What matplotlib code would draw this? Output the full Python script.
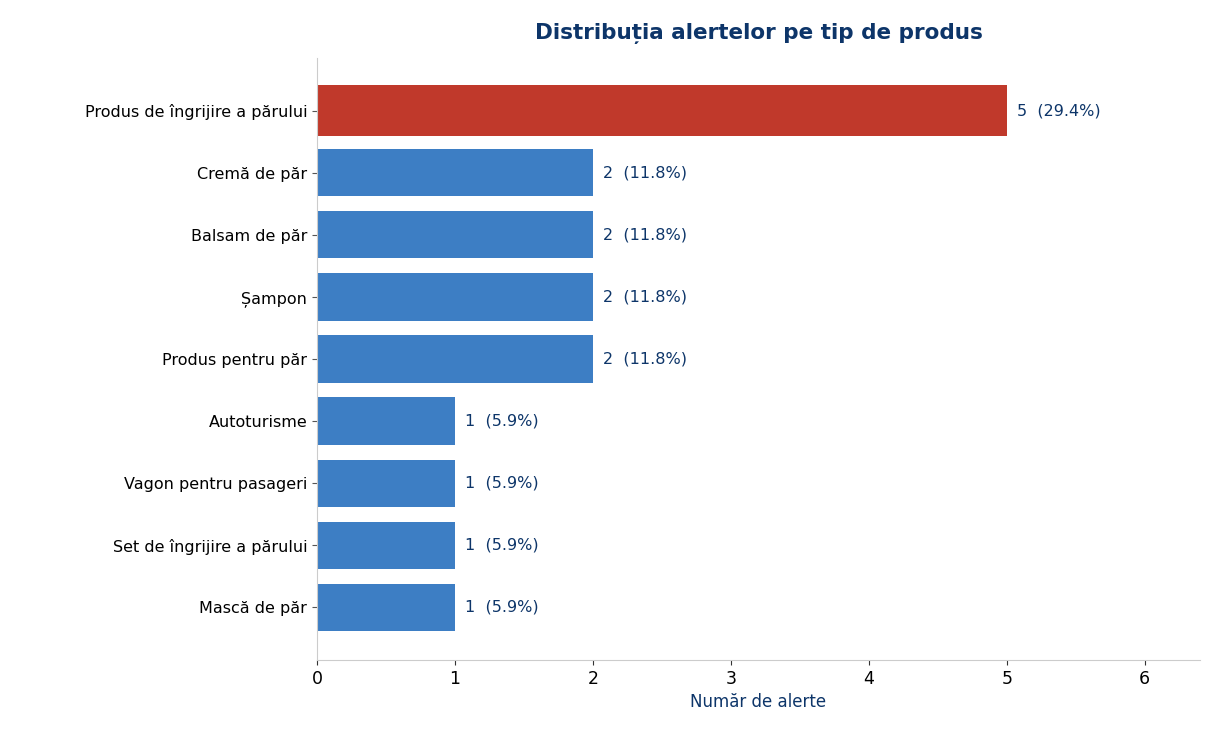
import matplotlib.pyplot as plt

categories = ["Produs de îngrijire a părului", "Cremă de păr", "Balsam de păr", "Șampon",
              "Produs pentru păr", "Autoturisme", "Vagon pentru pasageri",
              "Set de îngrijire a părului", "Mască de păr"]
counts = [5, 2, 2, 2, 2, 1, 1, 1, 1]
total = sum(counts)

navy = "#0d3569"
colors = ["#c0392b"] + ["#3d7ec4"] * (len(counts) - 1)
heights = [0.82] + [0.76] * (len(counts) - 1)

fig = plt.figure(figsize=(12.15, 7.41), dpi=100)
ax = fig.add_axes([317 / 1215, 1 - 660 / 741, 883 / 1215, 602 / 741])

y = list(range(len(categories)))
ax.barh(y, counts, height=heights, color=colors)
for yi, c in zip(y, counts):
    ax.text(c + 0.07, yi, f"{c}  ({c / total * 100:.1f}%)", va="center",
            ha="left", fontsize=11.5, color=navy)

ax.set_yticks(y)
ax.set_yticklabels(categories, fontsize=11.5)
ax.set_ylim(len(categories) - 0.15, -0.85)
ax.set_xlim(0, 6.4)
ax.set_xticks(range(7))
ax.tick_params(axis="x", labelsize=12.5, colors="#333333", labelcolor="black")
ax.tick_params(axis="y", colors="#555555", labelcolor="black")
ax.set_xlabel("Număr de alerte", fontsize=12, color=navy)
ax.set_title("Distribuția alertelor pe tip de produs", fontsize=15.5,
             fontweight="bold", color=navy, pad=14)
for s in ["top", "right"]:
    ax.spines[s].set_visible(False)
for s in ["left", "bottom"]:
    ax.spines[s].set_color("#cccccc")

fig.savefig("out.png", dpi=100)
